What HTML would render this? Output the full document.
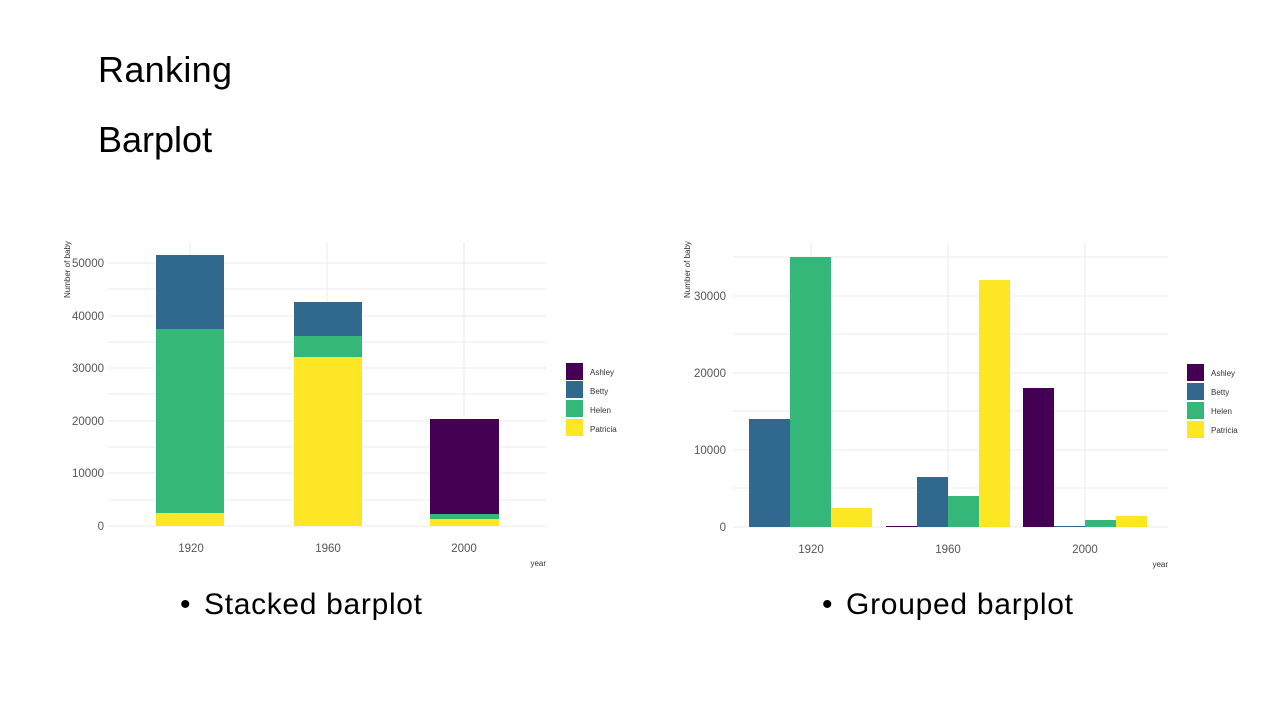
<!DOCTYPE html>
<html><head><meta charset="utf-8"><style>
body{margin:0;width:1280px;height:720px;background:#fff;overflow:hidden;font-family:"Liberation Sans",sans-serif}
</style></head><body>
<svg width="1280" height="720" xmlns="http://www.w3.org/2000/svg" font-family="Liberation Sans, sans-serif">
<text x="98" y="82" font-size="36" fill="#000" textLength="134">Ranking</text>
<text x="98" y="152" font-size="36" fill="#000">Barplot</text>
<text x="180" y="614" font-size="30" fill="#000">•</text>
<text x="204" y="614" font-size="30" fill="#000" textLength="218">Stacked barplot</text>
<text x="822" y="614" font-size="30" fill="#000">•</text>
<text x="846" y="614" font-size="30" fill="#000" textLength="227">Grouped barplot</text>

<!-- Left chart -->
<g stroke="#ebebeb" stroke-width="1">
<line x1="108" x2="546" y1="263" y2="263"/><line x1="108" x2="546" y1="289" y2="289"/>
<line x1="108" x2="546" y1="316" y2="316"/><line x1="108" x2="546" y1="342" y2="342"/>
<line x1="108" x2="546" y1="368" y2="368"/><line x1="108" x2="546" y1="394" y2="394"/>
<line x1="108" x2="546" y1="421" y2="421"/><line x1="108" x2="546" y1="447" y2="447"/>
<line x1="108" x2="546" y1="473" y2="473"/><line x1="108" x2="546" y1="500" y2="500"/>
<line x1="108" x2="546" y1="526" y2="526"/>
<line x1="190" x2="190" y1="242" y2="526"/><line x1="327" x2="327" y1="242" y2="526"/><line x1="464" x2="464" y1="242" y2="526"/>
</g>
<rect x="156" y="255" width="68" height="74" fill="#31688e"/>
<rect x="156" y="329" width="68" height="184" fill="#35b779"/>
<rect x="156" y="513" width="68" height="13" fill="#fde725"/>
<rect x="294" y="302" width="68" height="34" fill="#31688e"/>
<rect x="294" y="336" width="68" height="21" fill="#35b779"/>
<rect x="294" y="357" width="68" height="169" fill="#fde725"/>
<rect x="430" y="419" width="69" height="95" fill="#440154"/>
<rect x="430" y="514" width="69" height="5" fill="#35b779"/>
<rect x="430" y="519" width="69" height="7" fill="#fde725"/>
<g font-size="11.5" fill="#555" text-anchor="end">
<text x="104" y="267">50000</text><text x="104" y="320">40000</text><text x="104" y="372">30000</text>
<text x="104" y="425">20000</text><text x="104" y="477">10000</text><text x="104" y="530">0</text>
</g>
<g font-size="11.5" fill="#555" text-anchor="middle">
<text x="191" y="552">1920</text><text x="328" y="552">1960</text><text x="464" y="552">2000</text>
</g>
<text x="546" y="566" font-size="8" fill="#333" text-anchor="end">year</text>
<text transform="translate(70,298) rotate(-90)" font-size="8" fill="#333">Number of baby</text>
<rect x="566" y="363" width="17" height="17" fill="#440154"/>
<rect x="566" y="381" width="17" height="17" fill="#31688e"/>
<rect x="566" y="400" width="17" height="17" fill="#35b779"/>
<rect x="566" y="419" width="17" height="17" fill="#fde725"/>
<g font-size="8" fill="#333"><text x="590" y="375">Ashley</text><text x="590" y="394">Betty</text><text x="590" y="413">Helen</text><text x="590" y="432">Patricia</text></g>

<!-- Right chart -->
<g stroke="#ebebeb" stroke-width="1">
<line x1="733" x2="1168" y1="257" y2="257"/><line x1="733" x2="1168" y1="296" y2="296"/>
<line x1="733" x2="1168" y1="334" y2="334"/><line x1="733" x2="1168" y1="373" y2="373"/>
<line x1="733" x2="1168" y1="411" y2="411"/><line x1="733" x2="1168" y1="450" y2="450"/>
<line x1="733" x2="1168" y1="488" y2="488"/><line x1="733" x2="1168" y1="527" y2="527"/>
<line x1="811" x2="811" y1="243" y2="527"/><line x1="948" x2="948" y1="243" y2="527"/><line x1="1085" x2="1085" y1="243" y2="527"/>
</g>
<rect x="749" y="419" width="41" height="108" fill="#31688e"/>
<rect x="790" y="257" width="41" height="270" fill="#35b779"/>
<rect x="831" y="508" width="41" height="19" fill="#fde725"/>
<rect x="886" y="526" width="31" height="1" fill="#440154"/>
<rect x="917" y="477" width="31" height="50" fill="#31688e"/>
<rect x="948" y="496" width="31" height="31" fill="#35b779"/>
<rect x="979" y="280" width="31" height="247" fill="#fde725"/>
<rect x="1023" y="388" width="31" height="139" fill="#440154"/>
<rect x="1054" y="526" width="31" height="1" fill="#31688e"/>
<rect x="1085" y="520" width="31" height="7" fill="#35b779"/>
<rect x="1116" y="516" width="31" height="11" fill="#fde725"/>
<g font-size="11.5" fill="#555" text-anchor="end">
<text x="726" y="300">30000</text><text x="726" y="377">20000</text><text x="726" y="454">10000</text><text x="726" y="531">0</text>
</g>
<g font-size="11.5" fill="#555" text-anchor="middle">
<text x="811" y="553">1920</text><text x="948" y="553">1960</text><text x="1085" y="553">2000</text>
</g>
<text x="1168" y="567" font-size="8" fill="#333" text-anchor="end">year</text>
<text transform="translate(690,298) rotate(-90)" font-size="8" fill="#333">Number of baby</text>
<rect x="1187" y="364" width="17" height="17" fill="#440154"/>
<rect x="1187" y="383" width="17" height="17" fill="#31688e"/>
<rect x="1187" y="402" width="17" height="17" fill="#35b779"/>
<rect x="1187" y="421" width="17" height="17" fill="#fde725"/>
<g font-size="8" fill="#333"><text x="1211" y="376">Ashley</text><text x="1211" y="395">Betty</text><text x="1211" y="414">Helen</text><text x="1211" y="433">Patricia</text></g>
</svg>
</body></html>
